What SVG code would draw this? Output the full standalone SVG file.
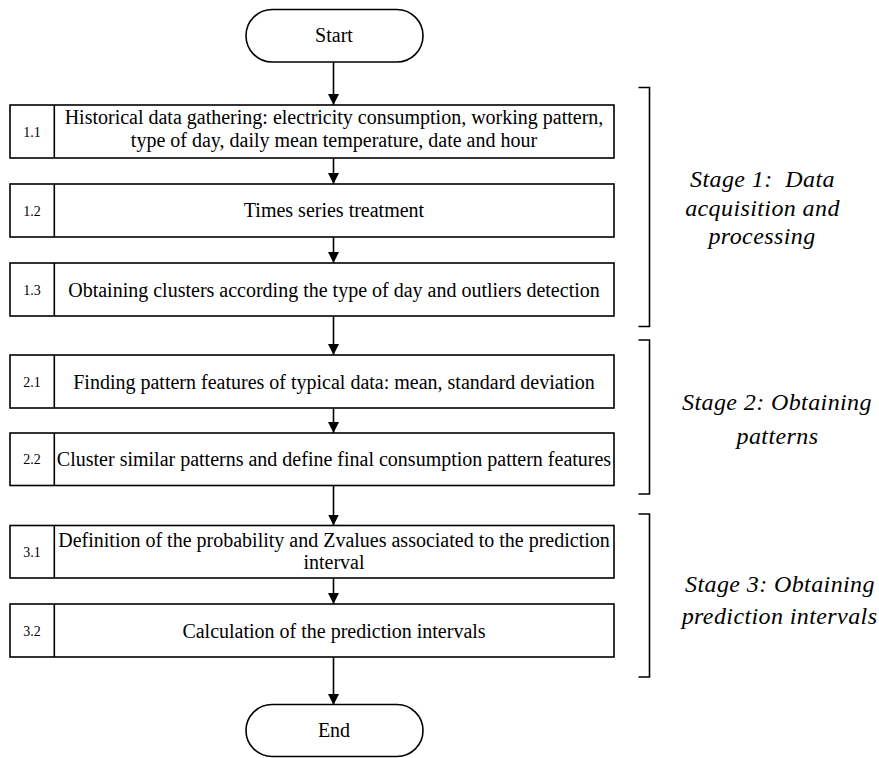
<svg xmlns="http://www.w3.org/2000/svg" width="879" height="758" viewBox="0 0 879 758">
<style>
.box{fill:#fff;stroke:#000;stroke-width:1.6}
.term{fill:#fff;stroke:#000;stroke-width:1.6}
.t{font-family:"Liberation Serif","Times New Roman",serif;font-size:20px;fill:#000;text-anchor:middle}
.n{font-family:"Liberation Serif","Times New Roman",serif;font-size:14px;fill:#000;text-anchor:middle}
.s{font-family:"Liberation Serif","Times New Roman",serif;font-size:24px;font-style:italic;letter-spacing:0.4px;fill:#000;text-anchor:middle;white-space:pre}
.c{stroke:#000;stroke-width:1.6;fill:none}
.br{stroke:#000;stroke-width:1.6;fill:none}
</style>
<defs>
<marker id="arr" markerUnits="userSpaceOnUse" markerWidth="12" markerHeight="12" refX="11" refY="5.5" orient="auto">
<path d="M0,0 L11,5.5 L0,11 z" fill="#000"/>
</marker>
</defs>
<g id="connectors">
<line class="c" x1="333.5" y1="62" x2="333.5" y2="105" marker-end="url(#arr)"/>
<line class="c" x1="333.5" y1="158" x2="333.5" y2="184" marker-end="url(#arr)"/>
<line class="c" x1="333.5" y1="237" x2="333.5" y2="263" marker-end="url(#arr)"/>
<line class="c" x1="333.5" y1="316" x2="333.5" y2="355" marker-end="url(#arr)"/>
<line class="c" x1="333.5" y1="408" x2="333.5" y2="433" marker-end="url(#arr)"/>
<line class="c" x1="333.5" y1="485.5" x2="333.5" y2="525.5" marker-end="url(#arr)"/>
<line class="c" x1="333.5" y1="578" x2="333.5" y2="604" marker-end="url(#arr)"/>
<line class="c" x1="333.5" y1="657" x2="333.5" y2="705" marker-end="url(#arr)"/>
</g>
<g id="start">
<rect class="term" x="246" y="9.5" width="177" height="52.5" rx="26.25" ry="26.25"/>
<text class="t" x="334" y="42">Start</text>
</g>
<g id="step-1-1">
<rect class="box" x="10" y="105" width="604" height="53"/>
<line class="c" x1="54.3" y1="105" x2="54.3" y2="158"/>
<text class="n" x="32" y="136.5">1.1</text>
<text class="t" x="334" y="124">Historical data gathering: electricity consumption, working pattern,</text>
<text class="t" x="334" y="146.5">type of day, daily mean temperature, date and hour</text>
</g>
<g id="step-1-2">
<rect class="box" x="10" y="184" width="604" height="53"/>
<line class="c" x1="54.3" y1="184" x2="54.3" y2="237"/>
<text class="n" x="32" y="215.5">1.2</text>
<text class="t" x="334" y="217">Times series treatment</text>
</g>
<g id="step-1-3">
<rect class="box" x="10" y="263" width="604" height="53"/>
<line class="c" x1="54.3" y1="263" x2="54.3" y2="316"/>
<text class="n" x="32" y="294.5">1.3</text>
<text class="t" x="334" y="296.5">Obtaining clusters according the type of day and outliers detection</text>
</g>
<g id="step-2-1">
<rect class="box" x="10" y="355" width="604" height="53"/>
<line class="c" x1="54.3" y1="355" x2="54.3" y2="408"/>
<text class="n" x="32" y="386.5">2.1</text>
<text class="t" x="334" y="388.5">Finding pattern features of typical data: mean, standard deviation</text>
</g>
<g id="step-2-2">
<rect class="box" x="10" y="433" width="604" height="52.5"/>
<line class="c" x1="54.3" y1="433" x2="54.3" y2="485.5"/>
<text class="n" x="32" y="464">2.2</text>
<text class="t" x="334" y="466">Cluster similar patterns and define final consumption pattern features</text>
</g>
<g id="step-3-1">
<rect class="box" x="10" y="525.5" width="604" height="52.5"/>
<line class="c" x1="54.3" y1="525.5" x2="54.3" y2="578"/>
<text class="n" x="32" y="557">3.1</text>
<text class="t" x="334" y="547">Definition of the probability and Zvalues associated to the prediction</text>
<text class="t" x="334" y="569">interval</text>
</g>
<g id="step-3-2">
<rect class="box" x="10" y="604" width="604" height="53"/>
<line class="c" x1="54.3" y1="604" x2="54.3" y2="657"/>
<text class="n" x="32" y="635.5">3.2</text>
<text class="t" x="334" y="637.5">Calculation of the prediction intervals</text>
</g>
<g id="end">
<rect class="term" x="246" y="704.5" width="177" height="52" rx="26" ry="26"/>
<text class="t" x="334" y="737">End</text>
</g>
<g id="stage-1">
<path class="br" d="M638.5,87.5 H649.5 V326.5 H638.5"/>
<text class="s" x="762.5" y="187" xml:space="preserve">Stage 1:  Data</text>
<text class="s" x="762.5" y="216">acquisition and</text>
<text class="s" x="762" y="243.5">processing</text>
</g>
<g id="stage-2">
<path class="br" d="M638.5,340 H649.5 V494 H638.5"/>
<text class="s" x="777" y="410">Stage 2: Obtaining</text>
<text class="s" x="777.5" y="444">patterns</text>
</g>
<g id="stage-3">
<path class="br" d="M638.5,514 H649.5 V677 H638.5"/>
<text class="s" x="780" y="591.5">Stage 3: Obtaining</text>
<text class="s" x="779.5" y="624">prediction intervals</text>
</g>
</svg>
